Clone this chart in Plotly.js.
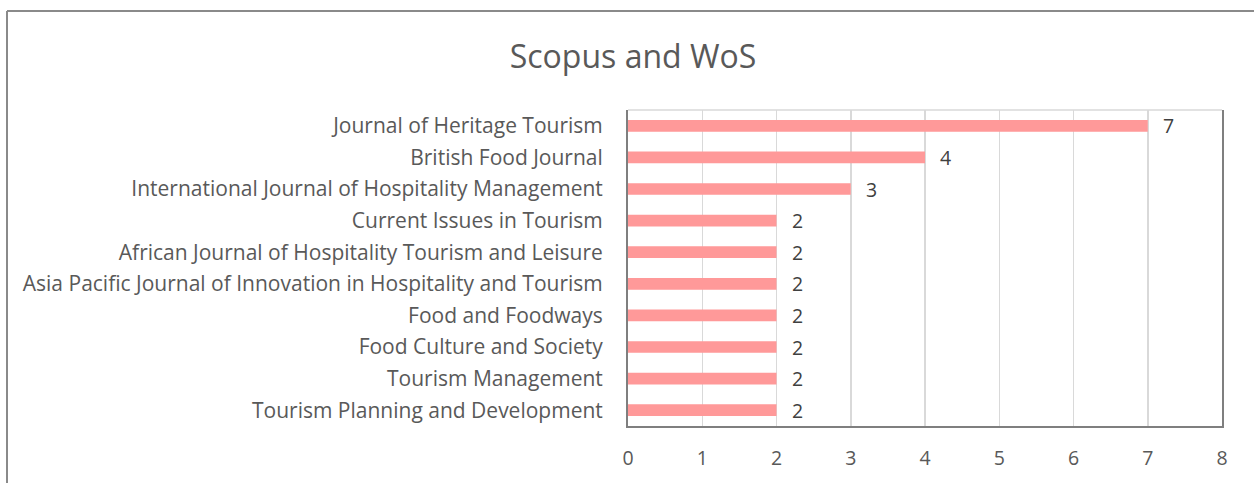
<!DOCTYPE html>
<html>
<head>
<meta charset="utf-8">
<script src="https://cdn.plot.ly/plotly-3.0.1.min.js"></script>
<style>html,body{margin:0;padding:0;background:#fff}#chart{width:1254px;height:483px}</style>
</head>
<body>
<div id="chart"></div>
<script>
const categories = [
  "Journal of Heritage Tourism",
  "British Food Journal",
  "International Journal of Hospitality Management",
  "Current Issues in Tourism",
  "African Journal of Hospitality Tourism and Leisure",
  "Asia Pacific Journal of Innovation in Hospitality and Tourism",
  "Food and Foodways",
  "Food Culture and Society",
  "Tourism Management",
  "Tourism Planning and Development"
];
const counts = [7, 4, 3, 2, 2, 2, 2, 2, 2, 2];
const xTicks = [0, 1, 2, 3, 4, 5, 6, 7, 8];

const W = 1254, H = 483;
const M = {l: 628, r: 32, t: 110, b: 57};
const pw = W - M.l - M.r, ph = H - M.t - M.b;
const px = x => (x - M.l) / pw;
const py = y => 1 - (y - M.t) / ph;

const font = "'Open Sans', 'DejaVu Sans', sans-serif";
const txt = '#595959';

const trace = {
  type: 'bar',
  orientation: 'h',
  x: counts,
  y: categories,
  marker: {color: '#FF9999'},
  width: 0.37,
  hoverinfo: 'x+y'
};

const annotations = counts.map((v, i) => ({
  x: v, y: categories[i], xref: 'x', yref: 'y',
  text: String(v), showarrow: false, xanchor: 'left', xshift: 13,
  font: {family: font, size: 19.5, color: '#404040'}
}));

const layout = {
  width: W, height: H,
  margin: M,
  paper_bgcolor: '#fff', plot_bgcolor: '#fff',
  title: {text: 'Scopus and WoS', font: {family: font, size: 32, color: txt},
          x: px(633), xref: 'paper', xanchor: 'center', y: 1 - 57 / H, yanchor: 'middle'},
  font: {family: font, color: txt},
  showlegend: false,
  xaxis: {
    range: [0, 8], tickvals: xTicks, ticktext: xTicks.map(String),
    showgrid: true, gridcolor: '#d9d9d9', gridwidth: 1.5,
    zeroline: false, showline: true, linecolor: '#7f7f7f', linewidth: 2,
    ticks: '', tickfont: {family: font, size: 19.5, color: txt},
    ticklabelstandoff: 14, fixedrange: true
  },
  yaxis: {
    autorange: 'reversed', type: 'category',
    showgrid: false, zeroline: false,
    showline: true, linecolor: '#7f7f7f', linewidth: 2, mirror: true,
    ticks: '', tickfont: {family: font, size: 21, color: txt},
    ticklabelstandoff: 19, fixedrange: true
  },
  annotations: annotations,
  shapes: [
    {type: 'line', xref: 'paper', yref: 'paper', x0: 0, x1: 1, y0: 1, y1: 1,
     line: {color: '#d9d9d9', width: 1.5}},
    {type: 'line', xref: 'paper', yref: 'paper', x0: px(7), x1: px(W + 5), y0: py(11), y1: py(11),
     line: {color: '#8a8a8a', width: 2}},
    {type: 'line', xref: 'paper', yref: 'paper', x0: px(7), x1: px(7), y0: py(11), y1: py(H + 5),
     line: {color: '#8a8a8a', width: 2}}
  ]
};

Plotly.newPlot('chart', [trace], layout, {displayModeBar: false, staticPlot: true});
</script>
</body>
</html>
